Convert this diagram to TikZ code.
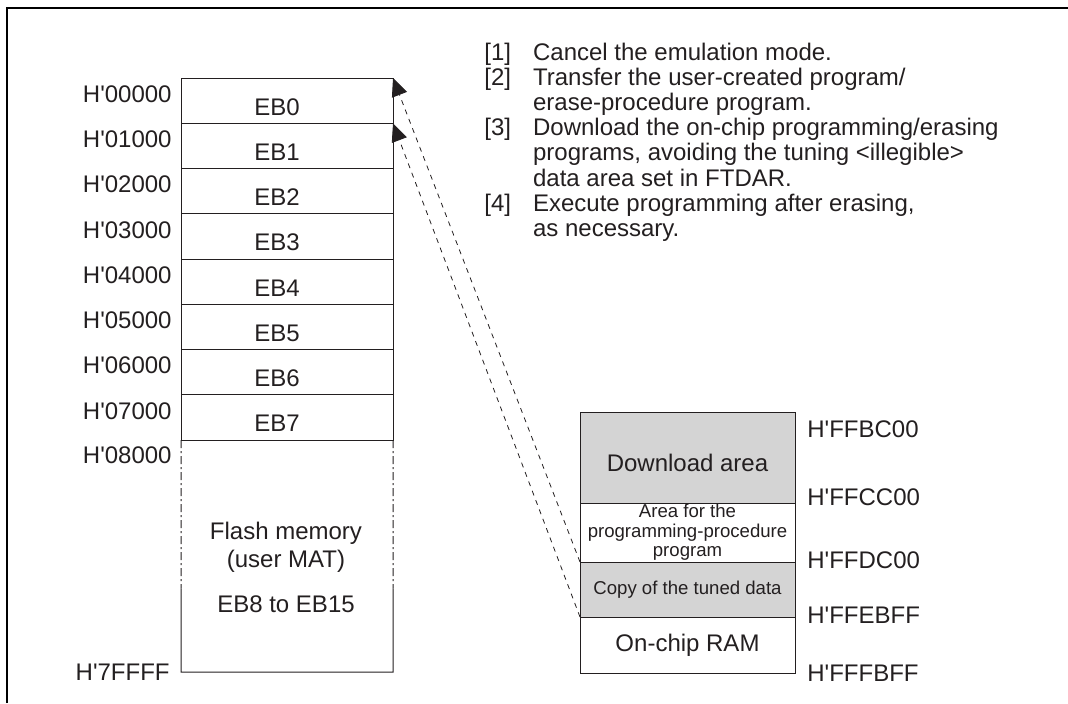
\documentclass[tikz,border=0pt]{standalone}
\usepackage{fontspec}
\setmainfont{Liberation Sans}
\usetikzlibrary{arrows.meta,positioning,calc}
\definecolor{flashGray}{RGB}{212,212,212}
\definecolor{flashInk}{RGB}{35,31,32}
\colorlet{areagray}{flashGray}
\newcommand{\hexaddr}[1]{H\textquotesingle #1}

\begin{document}
\begin{tikzpicture}[
  x=0.5pt,y=-0.5pt,
  every node/.style={text=flashInk,font=\fontsize{12}{14}\selectfont},
  ebrow/.style={draw=flashInk,line width=0.5pt,outer sep=0pt,inner sep=0pt,minimum width=106pt,minimum height=22.625pt,text height=14.6pt,text depth=0pt},
  ramrow/.style={draw=flashInk,line width=0.5pt,outer sep=0pt,inner sep=0pt,minimum width=107.5pt,align=center},
  addr/.style={inner sep=0pt},
  copyline/.style={draw=flashInk,dash pattern=on 2.5pt off 2.5pt,line width=0.4pt,-{Triangle[length=9pt,width=8pt]}}
]
\useasboundingbox (0,0) rectangle (1068,703);
\draw[line width=1.3pt] (7,703) -- (7,8) -- (1068,8);

% user MAT, erase blocks
\node[ebrow] (eb0) at (287,100.625) {EB0\hspace*{10pt}};
\foreach \i [remember=\i as \prev (initially 0)] in {1,...,7}
  \node[ebrow,below=0pt of eb\prev] (eb\i) {EB\i\hspace*{10pt}};
\foreach \i in {0,...,7}
  \node[addr,anchor=east] (a\i) at ($(eb\i.north west)+(-9,16)$) {\hexaddr{0\i000}};

\node[ebrow,draw=none,minimum height=116pt,below=0pt of eb7] (flash) {};
\coordinate (fw) at ($(flash.north west)!0.64!(flash.south west)$);
\coordinate (fe) at ($(flash.north east)!0.64!(flash.south east)$);
\draw[flashInk,line width=0.5pt] (fw) -- (flash.south west) -- (flash.south east) -- (fe);
\draw[flashInk,line width=0.5pt,dash pattern=on 4pt off 1.5pt on 1pt off 1.5pt] (flash.north west) -- (fw);
\draw[flashInk,line width=0.5pt,dash pattern=on 4pt off 1.5pt on 1pt off 1.5pt] (flash.north east) -- (fe);
\node[align=center,inner sep=0pt] (flashtxt) at ($(flash.center)+(-1,11.5)$) {Flash memory\\(user MAT)\\[8.5pt]EB8 to EB15};
\node[addr,anchor=east] (a8) at ($(flash.north west)+(-9,15)$) {\hexaddr{08000}};
\node[addr,anchor=east] (a9) at ($(flash.south west)+(-11,0)$) {\hexaddr{7FFFF}};

% on-chip RAM
\node[ramrow,fill=areagray,minimum height=45.5pt,text height=14.1pt,text depth=0pt] (dl) at (687.5,457.5) {Download area};
\node[ramrow,minimum height=29.5pt,below=0pt of dl,font=\fontsize{9.3}{9.75}\selectfont] (prog) {Area for the\\programming-procedure\\program};
\node[ramrow,fill=areagray,minimum height=27.5pt,below=0pt of prog,font=\fontsize{9.3}{11}\selectfont] (copy) {Copy of the tuned data};
\node[ramrow,minimum height=28pt,below=0pt of copy] (ram) {On-chip RAM};

\node[addr,anchor=west] (fbc) at ($(dl.north east)+(12,17)$) {\hexaddr{FFBC00}};
\node[addr,anchor=west] (fcc) at ($(prog.north east)+(12,-6)$) {\hexaddr{FFCC00}};
\node[addr,anchor=west] (fdc) at ($(copy.north east)+(12,-2)$) {\hexaddr{FFDC00}};
\node[addr,anchor=west] (feb) at ($(ram.north east)+(12,-2)$) {\hexaddr{FFEBFF}};
\node[addr,anchor=west] (ffb) at ($(ram.south east)+(12,0)$) {\hexaddr{FFFBFF}};

\draw[copyline] (copy.north west) -- (eb0.north east);
\draw[copyline] (copy.south west) -- (eb1.north east);

% procedure steps
\node[anchor=north west,inner sep=0pt,font=\fontsize{12}{12.6}\selectfont] (steps) at (484,42) {%
  \begin{tabular}{@{}l@{\hspace{11pt}}l@{}}
    {[1]} & Cancel the emulation mode.\\
    {[2]} & Transfer the user-created program/\\
          & erase-procedure program.\\
    {[3]} & Download the on-chip programming/erasing\\
          & programs, avoiding the tuning <illegible>\\
          & data area set in FTDAR.\\
    {[4]} & Execute programming after erasing,\\
          & as necessary.
  \end{tabular}};
\end{tikzpicture}
\end{document}
